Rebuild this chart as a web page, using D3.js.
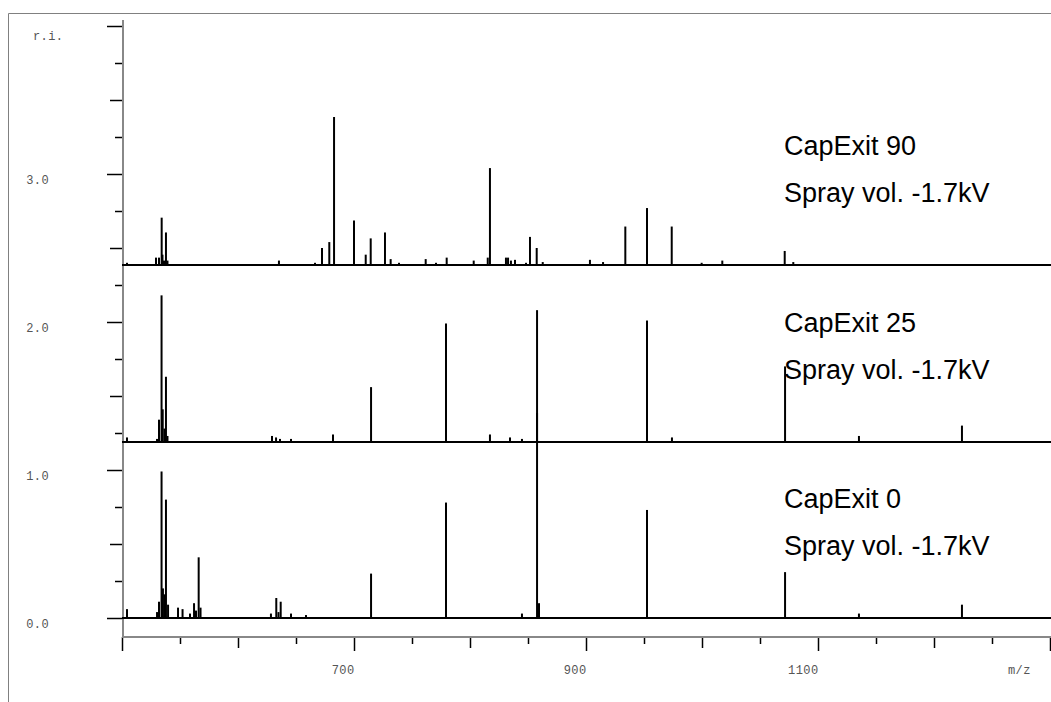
<!DOCTYPE html>
<html>
<head>
<meta charset="utf-8">
<script src="https://cdn.jsdelivr.net/npm/d3@7"></script>
<style>
  body { margin: 0; background: #fff; }
  .tick text { font-family: "Liberation Mono", monospace; font-size: 12px; fill: #555; letter-spacing: 0.4px; }
</style>
</head>
<body>
<script>
// peak lists: m/z and relative intensity (r.i.)
const mz0 = [504.3, 530.2, 531.9, 534.1, 535.3, 536.6, 537.9, 539.7, 548.3, 552.2, 558.6, 562.1, 563.8, 566.1, 567.7,
  628.4, 633.0, 634.9, 636.8, 645.7, 658.6, 714.7, 779.3, 844.8, 857.8, 859.5, 952.6, 1071.6, 1135.3, 1224.1];
const ri0 = [0.06, 0.04, 0.11, 0.99, 0.20, 0.16, 0.80, 0.09, 0.07, 0.06, 0.03, 0.10, 0.05, 0.41, 0.07,
  0.03, 0.135, 0.04, 0.11, 0.03, 0.02, 0.30, 0.78, 0.03, 1.385, 0.10, 0.73, 0.31, 0.03, 0.09];

const mz25 = [504.3, 530.2, 531.9, 534.1, 535.1, 536.6, 537.9, 539.2, 629.3, 632.8, 636.2, 645.7, 681.9, 714.7,
  779.3, 817.2, 834.5, 844.8, 857.8, 952.6, 974.1, 1071.6, 1135.3, 1224.1];
const ri25 = [0.03, 0.02, 0.15, 0.99, 0.22, 0.09, 0.44, 0.04, 0.04, 0.03, 0.02, 0.02, 0.05, 0.37,
  0.80, 0.05, 0.03, 0.02, 0.89, 0.82, 0.03, 0.51, 0.04, 0.11];

const mz90 = [504.3, 529.3, 531.9, 534.2, 534.9, 536.2, 537.9, 539.2, 635.3, 666.4, 672.4, 678.7, 682.8, 700.0,
  710.1, 714.4, 726.7, 731.6, 738.8, 761.8, 770.7, 779.9, 803.2, 815.3, 817.2, 831.0, 832.8, 835.3, 838.8,
  848.3, 851.7, 857.5, 862.7, 903.4, 914.7, 933.9, 952.6, 973.9, 999.7, 1017.5, 1071.3, 1078.7];
const ri90 = [0.015, 0.05, 0.05, 0.32, 0.07, 0.03, 0.22, 0.03, 0.03, 0.015, 0.115, 0.155, 1.0, 0.30,
  0.07, 0.18, 0.22, 0.04, 0.015, 0.04, 0.015, 0.05, 0.03, 0.05, 0.655, 0.05, 0.05, 0.03, 0.035,
  0.015, 0.19, 0.115, 0.02, 0.035, 0.02, 0.26, 0.385, 0.26, 0.015, 0.03, 0.095, 0.02];

const spectra = [
  { name: "CapExit 0", offset: 0.0, mz: mz0, ri: ri0 },
  { name: "CapExit 25", offset: 1.19, mz: mz25, ri: ri25 },
  { name: "CapExit 90", offset: 2.385, mz: mz90, ri: ri90 }
];
const sprayLabel = "Spray vol. -1.7kV";

const xLabelTicks = [700, 900, 1100];
const yLabelTicks = [0, 1, 2, 3];

const W = 1051, H = 702;
const x = d3.scaleLinear().domain([500, 1300]).range([122, 1050]);
const y = d3.scaleLinear().domain([0, 4]).range([618, 26]);

const svg = d3.select("body").append("svg")
  .attr("width", W).attr("height", H);

// outer frame (cropped)
svg.append("path")
  .attr("d", `M8.5,${H} V13.5 H${W}`)
  .attr("fill", "none").attr("stroke", "#808080").attr("stroke-width", 1);

// y axis: three tick lengths
function yAxis(vals, size, labels) {
  const g = svg.append("g").attr("transform", "translate(123,0)")
    .call(d3.axisLeft(y).tickValues(vals).tickSize(size).tickPadding(74 - size)
      .tickFormat(d => labels && yLabelTicks.includes(d) ? d.toFixed(1) : ""));
  g.select(".domain").remove();
  g.selectAll(".tick line").attr("stroke", "#000").attr("stroke-width", 1.5);
  g.selectAll(".tick text").attr("dy", "0.75em").attr("text-anchor", "end");
  return g;
}
yAxis([0, 1, 2, 3, 4], 16, true);
yAxis([0.5, 1.5, 2.5, 3.5], 13, false);
yAxis([0.25, 0.75, 1.25, 1.75, 2.25, 2.75, 3.25, 3.75], 8, false);

svg.append("line")
  .attr("x1", 123).attr("x2", 123).attr("y1", 20).attr("y2", 638)
  .attr("stroke", "#888").attr("stroke-width", 2);

svg.append("text").attr("x", 33).attr("y", 40)
  .attr("font-family", "Liberation Mono, monospace").attr("font-size", 12)
  .attr("fill", "#555").attr("letter-spacing", "0.4px").text("r.i.");

// x axis: three tick lengths
function xAxis(vals, size, labels) {
  const g = svg.append("g").attr("transform", "translate(0,637)")
    .call(d3.axisBottom(x).tickValues(vals).tickSize(size).tickPadding(37 - size)
      .tickFormat(d => labels && xLabelTicks.includes(d) ? d : ""));
  g.select(".domain").remove();
  g.selectAll(".tick line").attr("stroke", "#000").attr("stroke-width", 1.5);
  g.selectAll(".tick text").attr("text-anchor", "end").attr("dy", "0");
  return g;
}
xAxis([500, 700, 900, 1100, 1300], 14, true);
xAxis([600, 800, 1000, 1200], 11, false);
xAxis([550, 650, 750, 850, 950, 1050, 1150, 1250], 7, false);

svg.append("line")
  .attr("x1", 122).attr("x2", W).attr("y1", 637).attr("y2", 637)
  .attr("stroke", "#888").attr("stroke-width", 2);

svg.append("text").attr("x", 1008).attr("y", 674)
  .attr("font-family", "Liberation Mono, monospace").attr("font-size", 12)
  .attr("fill", "#555").attr("letter-spacing", "0.4px").text("m/z");

// spectra
spectra.forEach(s => {
  const g = svg.append("g");
  g.append("line")
    .attr("x1", x(500)).attr("x2", W)
    .attr("y1", y(s.offset)).attr("y2", y(s.offset))
    .attr("stroke", "#000").attr("stroke-width", 2);

  g.selectAll(".peak")
    .data(s.mz.map((m, i) => ({ m, r: s.ri[i] })))
    .enter().append("line")
    .attr("class", "peak")
    .attr("x1", d => x(d.m)).attr("x2", d => x(d.m))
    .attr("y1", y(s.offset)).attr("y2", d => y(s.offset + d.r))
    .attr("stroke", "#000").attr("stroke-width", 2);

  const ly = y(s.offset);
  g.append("text").attr("x", 784).attr("y", ly - 110)
    .attr("font-family", "Liberation Sans, Arial, sans-serif").attr("font-size", 27)
    .attr("fill", "#000").text(s.name);
  g.append("text").attr("x", 784).attr("y", ly - 63)
    .attr("font-family", "Liberation Sans, Arial, sans-serif").attr("font-size", 27)
    .attr("fill", "#000").text(sprayLabel);
});
</script>
</body>
</html>
